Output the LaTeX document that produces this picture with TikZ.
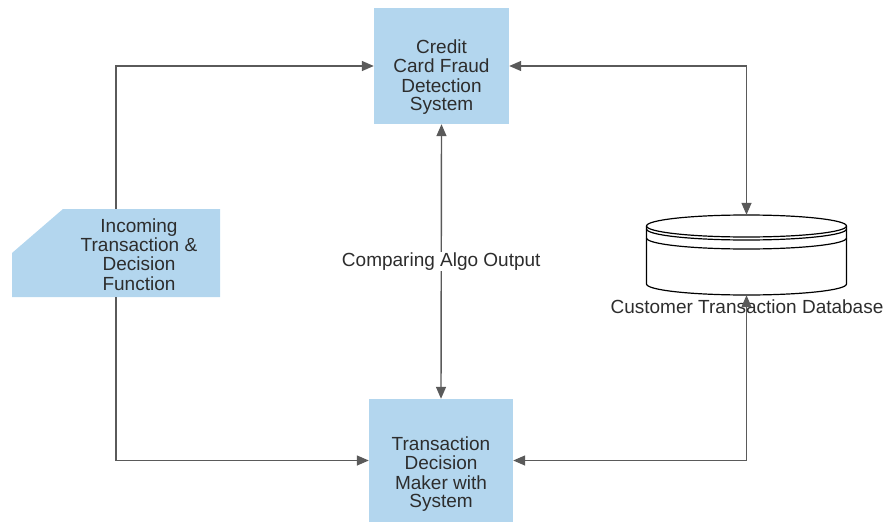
\documentclass[tikz,border=0pt]{standalone}
\usepackage{fontspec}
\setmainfont{Liberation Sans}
\usetikzlibrary{arrows.meta}
\definecolor{boxblue}{RGB}{179,214,238}
\definecolor{linegray}{RGB}{90,90,90}
\definecolor{textgray}{RGB}{45,45,45}
% stacked lines, optional vertical offset
\newcommand\boxtext[2][0pt]{\raisebox{#1}[\height][\depth]{\begin{tabular}{@{}c@{}}#2\end{tabular}}}
\tikzset{
  block/.style = {rectangle, fill=boxblue, text=textgray, inner sep=0pt,
                  font=\fontsize{19}{18.7}\selectfont},
  cutblock/.style = {block, fill=none, path picture={
      \fill [boxblue] (path picture bounding box.south west)
        -- ([yshift=-44pt]path picture bounding box.north west)
        -- ([xshift=51pt]path picture bounding box.north west)
        -- (path picture bounding box.north east)
        -- (path picture bounding box.south east) -- cycle;}},
  plain/.style = {text=textgray, inner sep=1pt, font=\fontsize{19}{18.7}\selectfont},
  flow/.style  = {draw=linegray, line width=1.4pt, -{Triangle[length=12pt,width=10pt]}},
  both/.style  = {flow, {Triangle[length=12pt,width=10pt]}-{Triangle[length=12pt,width=10pt]}}
}
\begin{document}
\begin{tikzpicture}[x=1pt,y=-1pt]
  \useasboundingbox (0,0) rectangle (887,522);
  \node [block, minimum width=135pt, minimum height=116pt] (cfd) at (441.5,66)
    {\boxtext[-12pt]{Credit\\Card Fraud\\Detection\\System}};
  \node [block, minimum width=144pt, minimum height=123pt] (tdm) at (441,460.5)
    {\boxtext[-14.5pt]{Transaction\\Decision\\Maker with\\System}};
  \node [cutblock, minimum width=208pt, minimum height=88pt] (inc) at (116,253)
    {\hspace*{46pt}\boxtext[-4pt]{Incoming\\Transaction \&\\Decision\\Function}};
  % database
  \node [inner sep=0pt, minimum width=200pt, minimum height=80pt] (db) at (746.5,255) {};
  \begin{scope}[shift={(db.center)}, line width=1.2pt]
    \draw [fill=white] (-100,-29) -- (-100,29)
      arc [start angle=180, end angle=0, x radius=100, y radius=11] -- (100,-29);
    \draw [fill=white] (0,-29) ellipse [x radius=100, y radius=11];
    \draw (-100,-26) arc [start angle=180, end angle=0, x radius=100, y radius=11];
    \draw (-100,-17) arc [start angle=180, end angle=0, x radius=100, y radius=11];
  \end{scope}
  \node [plain] (dbname) at (747,307) {Customer Transaction Database};

  \draw [flow] (inc.north) |- (cfd.west);
  \draw [flow] (inc.south) |- (tdm.west);
  \draw [both] (cfd.east) -| (db.north);
  \draw [both] (db.south) |- (tdm.east);
  \draw [both] (cfd.south) -- node [plain, fill=white] (cmp) {Comparing Algo Output} (tdm.north);
\end{tikzpicture}
\end{document}
